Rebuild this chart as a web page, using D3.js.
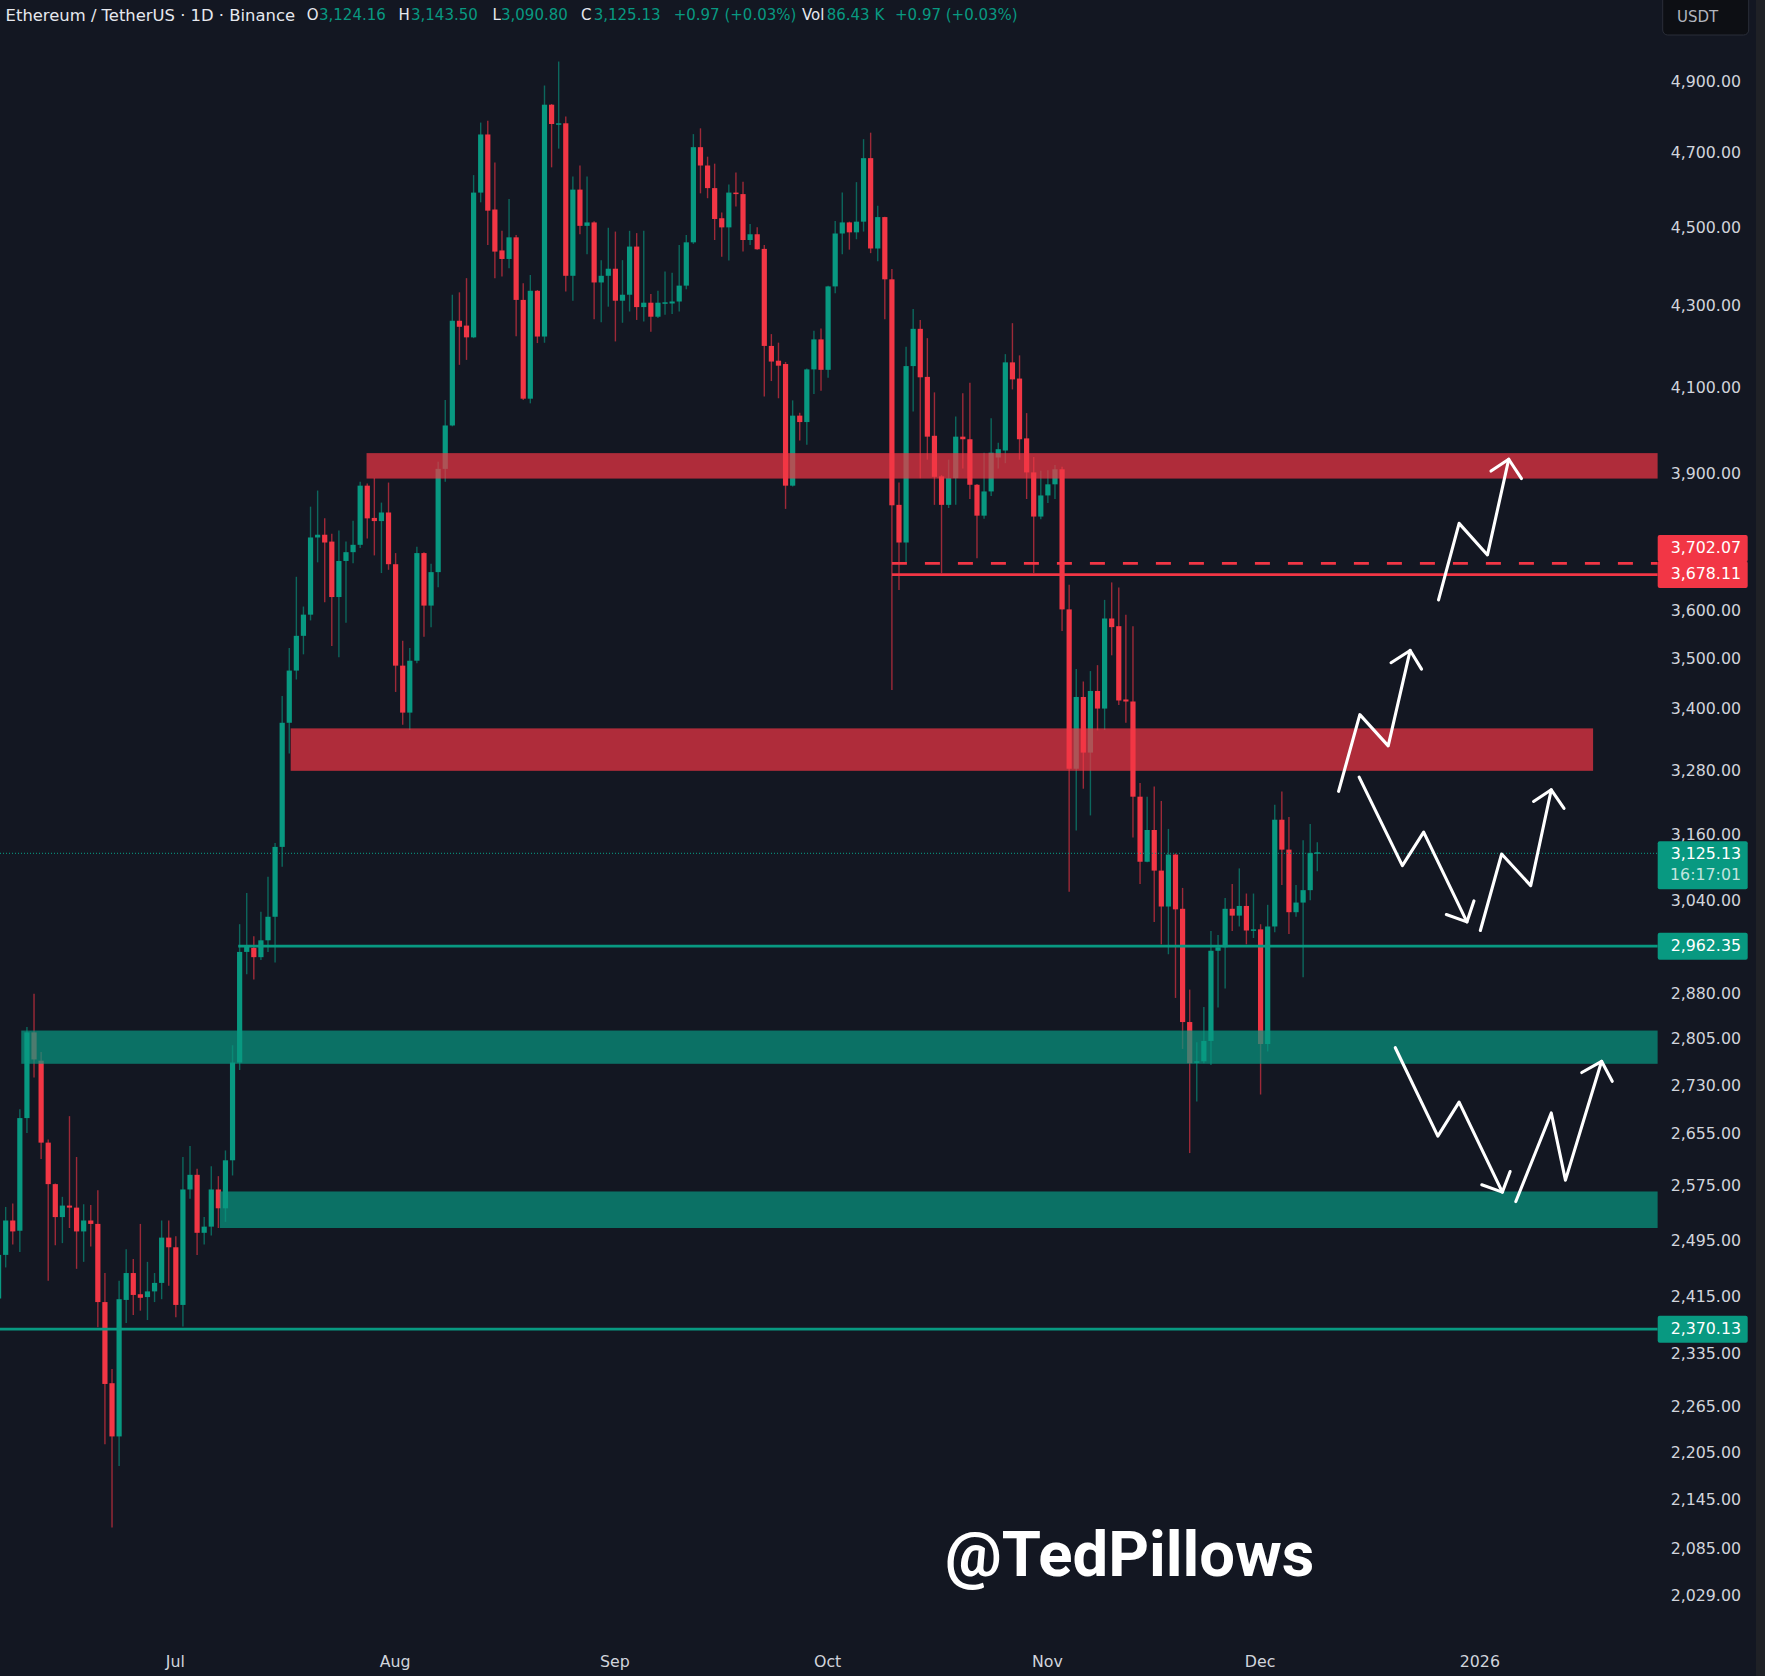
<!DOCTYPE html>
<html>
<head>
<meta charset="utf-8">
<title>Ethereum / TetherUS 1D</title>
<script src="https://cdn.jsdelivr.net/npm/d3@7"></script>
<style>
    html, body { margin: 0; padding: 0; background: #131722; }
    svg { display: block; }
    text { font-family: "DejaVu Sans", sans-serif; }
</style>
</head>
<body>
<svg id="chart" width="1765" height="1676"></svg>
<script>
"use strict"

// Daily candles, day 0 is 6 Jun 2025
var opens = [
    2410, 2472, 2522, 2507, 2677, 2814, 2768, 2639, 2576, 2527,
    2544, 2541, 2506, 2522, 2517, 2405, 2294, 2224, 2408, 2446,
    2416, 2412, 2420, 2432, 2497, 2483, 2401, 2568, 2590, 2504,
    2513, 2568, 2540, 2612, 2765, 2949, 2956, 2940, 2969, 3010,
    3135, 3370, 3474, 3545, 3589, 3754, 3760, 3745, 3626, 3703,
    3722, 3738, 3869, 3797, 3790, 3809, 3696, 3484, 3390, 3494,
    3720, 3608, 3679, 3907, 4007, 4259, 4247, 4218, 4589, 4747,
    4544, 4437, 4415, 4471, 4311, 4070, 4334, 4220, 4830, 4776,
    4778, 4372, 4597, 4501, 4510, 4355, 4372, 4390, 4309, 4324,
    4447, 4293, 4304, 4269, 4302, 4302, 4307, 4347, 4458, 4712,
    4662, 4601, 4521, 4497, 4589, 4585, 4464, 4479, 4441, 4197,
    4161, 4153, 3869, 4030, 4015, 4140, 4213, 4139, 4345, 4481,
    4510, 4484, 4512, 4682, 4442, 4524, 4363, 3826, 3743, 4148,
    4239, 4122, 3983, 3890, 3826, 3886, 3981, 3975, 3871, 3802,
    3856, 3933, 3949, 4157, 4118, 3977, 3899, 3800, 3847, 3872,
    3906, 3600, 3281, 3421, 3312, 3433, 3398, 3581, 3565, 3416,
    3412, 3228, 3108, 3166, 3092, 3028, 3121, 3024, 2831, 2765,
    2767, 2800, 2951, 2957, 3024, 3012, 3029, 2986, 2988, 2795,
    2993, 3185, 3130, 3018, 3035, 3057, 3124.16
];
var highs = [
    2494, 2542, 2547, 2691, 2823, 2878, 2782, 2644, 2577, 2557,
    2680, 2617, 2546, 2545, 2567, 2446, 2313, 2435, 2480, 2466,
    2517, 2462, 2446, 2522, 2522, 2499, 2617, 2634, 2599, 2527,
    2603, 2588, 2627, 2793, 2997, 3052, 2976, 3019, 3081, 3142,
    3423, 3520, 3669, 3606, 3822, 3858, 3796, 3762, 3769, 3745,
    3791, 3878, 3874, 3886, 3831, 3876, 3720, 3535, 3520, 3734,
    3722, 3697, 3923, 4067, 4324, 4330, 4366, 4636, 4780, 4785,
    4670, 4488, 4572, 4477, 4353, 4374, 4336, 4884, 4832, 4953,
    4797, 4632, 4662, 4632, 4513, 4412, 4496, 4486, 4412, 4488,
    4482, 4488, 4326, 4334, 4383, 4380, 4451, 4477, 4748, 4764,
    4686, 4667, 4536, 4611, 4643, 4618, 4506, 4497, 4451, 4226,
    4205, 4158, 4066, 4037, 4142, 4234, 4240, 4347, 4514, 4589,
    4512, 4617, 4734, 4752, 4554, 4525, 4389, 3876, 4195, 4288,
    4261, 4216, 4085, 3893, 3928, 4028, 4083, 4108, 3873, 3944,
    4024, 3967, 4177, 4253, 4174, 4036, 3934, 3903, 3904, 3916,
    3912, 3652, 3477, 3452, 3473, 3485, 3620, 3657, 3646, 3589,
    3565, 3254, 3228, 3247, 3220, 3168, 3123, 3061, 2885, 2798,
    2856, 2985, 2978, 3043, 3068, 3096, 3051, 3051, 2997, 3031,
    3213, 3238, 3190, 3066, 3147, 3177, 3143.5
];
var lows = [
    2401, 2454, 2487, 2476, 2654, 2741, 2614, 2435, 2486, 2489,
    2511, 2452, 2462, 2484, 2370, 2214, 2109, 2186, 2376, 2387,
    2393, 2380, 2405, 2409, 2428, 2384, 2371, 2554, 2472, 2487,
    2500, 2511, 2520, 2589, 2753, 2911, 2902, 2935, 2949, 2931,
    3099, 3310, 3456, 3507, 3577, 3700, 3615, 3524, 3501, 3572,
    3698, 3731, 3752, 3715, 3677, 3684, 3431, 3366, 3356, 3489,
    3543, 3563, 3647, 3878, 4005, 4151, 4163, 4216, 4563, 4451,
    4366, 4370, 4391, 4221, 4067, 4059, 4204, 4205, 4657, 4708,
    4332, 4309, 4479, 4427, 4263, 4255, 4294, 4208, 4254, 4282,
    4261, 4257, 4232, 4266, 4274, 4276, 4282, 4338, 4454, 4587,
    4574, 4464, 4421, 4411, 4552, 4434, 4451, 4439, 4075, 4112,
    4071, 3817, 3867, 3972, 3962, 4081, 4089, 4120, 4328, 4427,
    4439, 4466, 4486, 4430, 4409, 4263, 3435, 3641, 3698, 4040,
    3886, 3928, 3826, 3677, 3819, 3826, 3908, 3839, 3709, 3795,
    3846, 3908, 3920, 4092, 3928, 3839, 3677, 3794, 3830, 3839,
    3555, 3054, 3165, 3243, 3193, 3355, 3356, 3505, 3405, 3370,
    3152, 3068, 3107, 3001, 2962, 2945, 2871, 2787, 2623, 2703,
    2764, 2761, 2855, 2887, 2985, 2993, 2962, 2973, 2714, 2783,
    2983, 3066, 2980, 3010, 2906, 3039, 3090.8
];
var closes = [
    2472, 2522, 2506, 2677, 2814, 2770, 2639, 2576, 2527, 2544,
    2541, 2506, 2522, 2517, 2405, 2293, 2224, 2409, 2446, 2415,
    2411, 2420, 2432, 2497, 2483, 2401, 2568, 2590, 2504, 2513,
    2568, 2540, 2612, 2765, 2949, 2958, 2940, 2969, 3010, 3135,
    3370, 3474, 3545, 3589, 3754, 3760, 3743, 3626, 3703, 3722,
    3738, 3869, 3796, 3790, 3809, 3696, 3484, 3390, 3494, 3720,
    3608, 3679, 3907, 4007, 4259, 4244, 4218, 4589, 4747, 4541,
    4434, 4415, 4471, 4311, 4070, 4334, 4220, 4830, 4776, 4778,
    4372, 4597, 4501, 4510, 4355, 4372, 4390, 4309, 4324, 4447,
    4293, 4304, 4269, 4304, 4305, 4307, 4347, 4458, 4712, 4662,
    4601, 4519, 4497, 4589, 4585, 4464, 4479, 4440, 4197, 4159,
    4149, 3869, 4030, 4015, 4140, 4213, 4139, 4345, 4481, 4510,
    4484, 4512, 4682, 4442, 4524, 4363, 3825, 3743, 4148, 4239,
    4121, 3981, 3889, 3826, 3886, 3981, 3975, 3871, 3802, 3856,
    3944, 3952, 4157, 4116, 3975, 3899, 3800, 3847, 3872, 3906,
    3600, 3281, 3421, 3312, 3433, 3398, 3581, 3563, 3414, 3412,
    3228, 3108, 3166, 3092, 3028, 3121, 3023, 2831, 2764, 2767,
    2800, 2951, 2957, 3024, 3012, 3029, 2986, 2988, 2795, 2993,
    3185, 3130, 3018, 3035, 3057, 3124, 3125.13
];

// Axis labels
var priceTicks = [4900, 4700, 4500, 4300, 4100, 3900, 3600, 3500, 3400, 3280, 3160,
    3040, 2880, 2805, 2730, 2655, 2575, 2495, 2415, 2335, 2265, 2205, 2145, 2085, 2029];
var monthDays = [25, 56, 87, 117, 148, 178, 209];
var monthLabels = ["Jul", "Aug", "Sep", "Oct", "Nov", "Dec", "2026"];

// Supply and demand zones
var zoneNames = ["red", "red", "green", "green"];
var zoneFromDay = [51.9, 41.2, 3.2, 31.2];
var zoneToDay = [234, 224.9, 234, 234];
var zoneTop = [3943, 3359, 2817, 2565];
var zoneBottom = [3885, 3277, 2763, 2511];

// Price lines
var lineValues = [3702.07, 3678.11, 2962.35, 2370.13];
var lineFromDay = [126, 126, 33.8, -1];
var lineColors = ["#f23645", "#f23645", "#089981", "#089981"];
var lineDashes = ["15 18", null, null, null];
var lastClose = 3125.13;

// Hand drawn arrows: days and prices of the zigzag, then the two barbs
var arrowDays = [
    [203.1, 206, 210, 213],
    [189, 192, 196, 199.1],
    [191.9, 198, 201, 207.1],
    [209, 212, 216.1, 219],
    [197, 203, 206, 212.1],
    [214, 219, 221, 226.1]
];
var arrowPrices = [
    [3620, 3785, 3716, 3929],
    [3238, 3386, 3325, 3515],
    [3265, 3101, 3162, 3001],
    [2986, 3122, 3065, 3241],
    [2789, 2649, 2702, 2564],
    [2550, 2685, 2582, 2767]
];
var barbDays = [[210.5, 214.8], [196.4, 200.7], [204.2, 208.1], [216.5, 220.8], [209.2, 213.2], [223.3, 227.6]];
var barbPrices = [[3902, 3885], [3490, 3477], [3014, 3038], [3219, 3206], [2575, 2595], [2749, 2735]];

// Header strip
var headerTexts = ["Ethereum / TetherUS · 1D · Binance", "O", "3,124.16", "H", "3,143.50", "L", "3,090.80", "C", "3,125.13",
    "+0.97 (+0.03%)", "Vol", "86.43 K", "+0.97 (+0.03%)"];
var headerIsValue = [false, false, true, false, true, false, true, false, true, true, false, true, true];

var width = 1765, height = 1676;
var green = "#089981", red = "#f23645", axisColor = "#d1d4dc";

var svg = d3.select("#chart");

var x = d3.scaleLinear().domain([0, 186]).range([-1.42, 1317.3]);
var y = d3.scaleLog().domain([2029, 4900]).range([1594, 80]);

svg.append("rect").attr("width", width).attr("height", height).attr("fill", "#131722");
svg.append("rect").attr("x", 1756).attr("width", 9).attr("height", height).attr("fill", "#1f2126");

// Candles
var candles = d3.range(opens.length).map(function(i) {
    return { day: i, o: opens[i], h: highs[i], l: lows[i], c: closes[i] };
});
function candleColor(d) {
    return d.c >= d.o ? green : red;
}

var candleGroup = svg.append("g").attr("class", "candles");
candleGroup.selectAll("line")
    .data(candles)
    .enter()
    .append("line")
    .attr("x1", function(d) { return x(d.day); })
    .attr("x2", function(d) { return x(d.day); })
    .attr("y1", function(d) { return y(d.h); })
    .attr("y2", function(d) { return y(d.l); })
    .attr("stroke", candleColor)
    .attr("stroke-width", 1.4)
    .attr("stroke-opacity", 0.62);
candleGroup.selectAll("rect")
    .data(candles)
    .enter()
    .append("rect")
    .attr("x", function(d) { return x(d.day) - 2.6; })
    .attr("width", 5.2)
    .attr("y", function(d) { return y(Math.max(d.o, d.c)); })
    .attr("height", function(d) { return Math.max(1.5, y(Math.min(d.o, d.c)) - y(Math.max(d.o, d.c))); })
    .attr("fill", candleColor);

// Zones sit over the candles
svg.append("g").attr("class", "zones").selectAll("rect")
    .data(d3.range(zoneNames.length))
    .enter()
    .append("rect")
    .attr("x", function(i) { return x(zoneFromDay[i]); })
    .attr("width", function(i) { return x(zoneToDay[i]) - x(zoneFromDay[i]); })
    .attr("y", function(i) { return y(zoneTop[i]); })
    .attr("height", function(i) { return y(zoneBottom[i]) - y(zoneTop[i]); })
    .attr("fill", function(i) { return zoneNames[i] == "red" ? red : green; })
    .attr("fill-opacity", 0.7);

// Last price dotted line
svg.append("line")
    .attr("x1", 0).attr("x2", x(234))
    .attr("y1", y(lastClose) + 1).attr("y2", y(lastClose) + 1)
    .attr("stroke", green)
    .attr("stroke-width", 1.2)
    .attr("stroke-opacity", 0.85)
    .attr("stroke-dasharray", "1 2");

// Drawn price lines, they come out 2px under the axis labelling in the screenshot
var lineShift = 2;
svg.append("g").attr("class", "levels").selectAll("line")
    .data(d3.range(lineValues.length))
    .enter()
    .append("line")
    .attr("x1", function(i) { return x(lineFromDay[i]); })
    .attr("x2", x(234))
    .attr("y1", function(i) { return y(lineValues[i]) + lineShift; })
    .attr("y2", function(i) { return y(lineValues[i]) + lineShift; })
    .attr("stroke", function(i) { return lineColors[i]; })
    .attr("stroke-width", 2.8)
    .attr("stroke-dasharray", function(i) { return lineDashes[i]; });

// Arrows
var zigzag = d3.line()
    .x(function(p) { return x(p[0]); })
    .y(function(p) { return y(p[1]); });
var arrowGroup = svg.append("g").attr("class", "arrows")
    .attr("fill", "none")
    .attr("stroke", "#ffffff")
    .attr("stroke-width", 3.1)
    .attr("stroke-linecap", "round")
    .attr("stroke-linejoin", "round");
arrowDays.forEach(function(days, a) {
    var points = days.map(function(d, i) { return [d, arrowPrices[a][i]]; });
    var tip = points[points.length - 1];
    arrowGroup.append("path").attr("d", zigzag(points));
    arrowGroup.append("path").attr("d", zigzag([
        [barbDays[a][0], barbPrices[a][0]],
        tip,
        [barbDays[a][1], barbPrices[a][1]]
    ]));
});

// Price axis
var yAxis = d3.axisRight(y)
    .tickValues(priceTicks)
    .tickFormat(d3.format(",.2f"))
    .tickSize(0)
    .tickPadding(0);
var gy = svg.append("g").attr("transform", "translate(1741,1)").call(yAxis);
gy.select(".domain").remove();
gy.selectAll("text")
    .attr("text-anchor", "end")
    .attr("fill", axisColor)
    .style("font-size", "15.8px");

// Time axis
var xAxis = d3.axisBottom(x)
    .tickValues(monthDays)
    .tickFormat(function(d, i) { return monthLabels[i]; })
    .tickSize(0)
    .tickPadding(0);
var gx = svg.append("g").attr("transform", "translate(-1,1655.5)").call(xAxis);
gx.select(".domain").remove();
gx.selectAll("text")
    .attr("fill", axisColor)
    .style("font-size", "15.8px");

// Price tags on the axis
var tagShift = [-15, 0, 0, 0];
var tags = svg.append("g").attr("class", "tags");
lineValues.forEach(function(v, i) {
    var cy = y(v) + lineShift + tagShift[i];
    tags.append("rect")
        .attr("x", 1657.7).attr("y", cy - 13.5)
        .attr("width", 90).attr("height", 27)
        .attr("rx", 2)
        .attr("fill", lineColors[i]);
    tags.append("text")
        .attr("x", 1741).attr("y", cy - 1)
        .attr("dy", "0.36em")
        .attr("text-anchor", "end")
        .attr("fill", "#ffffff")
        .style("font-size", "15.8px")
        .text(d3.format(",.2f")(v));
});
tags.append("rect")
    .attr("x", 1657.7).attr("y", y(lastClose) - 11)
    .attr("width", 90).attr("height", 48)
    .attr("rx", 2)
    .attr("fill", green);
tags.append("text")
    .attr("x", 1741).attr("y", y(lastClose) + 1)
    .attr("dy", "0.36em")
    .attr("text-anchor", "end")
    .attr("fill", "#ffffff")
    .style("font-size", "15.8px")
    .text(d3.format(",.2f")(lastClose));
tags.append("text")
    .attr("x", 1741).attr("y", y(lastClose) + 22.5)
    .attr("dy", "0.36em")
    .attr("text-anchor", "end")
    .attr("fill", "#ffffff")
    .attr("fill-opacity", 0.75)
    .style("font-size", "15.8px")
    .text("16:17:01");

// Currency button
svg.append("rect")
    .attr("x", 1662.7).attr("y", -6)
    .attr("width", 86).attr("height", 41)
    .attr("rx", 5)
    .attr("fill", "#0d0f14")
    .attr("stroke", "#2a2e39");
svg.append("text")
    .attr("x", 1677).attr("y", 17)
    .attr("dy", "0.36em")
    .attr("fill", "#b2b5be")
    .style("font-size", "15px")
    .text("USDT");

// Header strip
var headerX = [5.6, 306.7, 319, 398.6, 411, 492.6, 501, 581, 593.7, 673.7, 802, 826.7, 895];
svg.append("g").attr("class", "header").selectAll("text")
    .data(headerTexts)
    .enter()
    .append("text")
    .attr("x", function(d, i) { return headerX[i]; })
    .attr("y", 15)
    .attr("dy", "0.36em")
    .attr("fill", function(d, i) { return headerIsValue[i] ? green : "#e6e8ee"; })
    .style("font-size", function(d, i) { return i == 0 ? "16.4px" : "15px"; })
    .text(function(d) { return d; });

// Watermark
svg.append("text")
    .attr("x", 945).attr("y", 1576)
    .attr("fill", "#ffffff")
    .style("font-family", "Roboto, sans-serif")
    .style("font-weight", 700)
    .style("font-size", "63.4px")
    .text("@TedPillows");
</script>
</body>
</html>
